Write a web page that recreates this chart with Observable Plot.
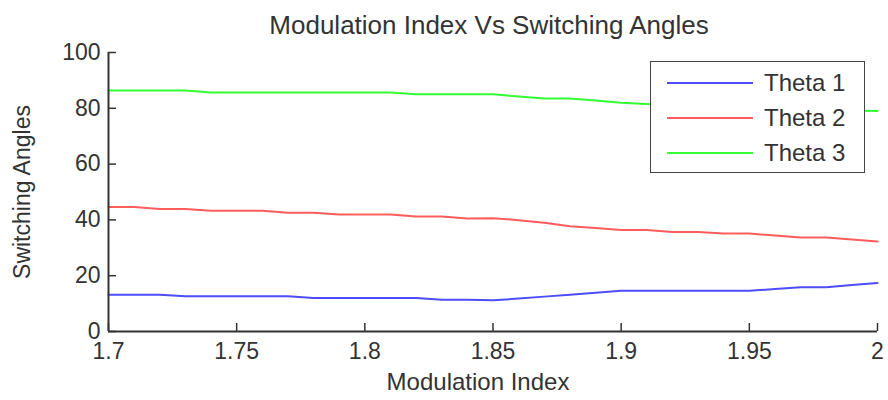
<!DOCTYPE html>
<html>
<head>
<meta charset="utf-8">
<script src="https://cdn.jsdelivr.net/npm/d3@7"></script>
<script src="https://cdn.jsdelivr.net/npm/@observablehq/plot@0.6"></script>
<style>
  html, body { margin: 0; padding: 0; background: #fff; }
  #wrap { position: relative; width: 888px; height: 400px; font-family: "Liberation Sans", Arial, sans-serif; }
  #legend { position: absolute; left: 650px; top: 61px; width: 215px; height: 112px; border: 1.5px solid #444; background: #fff; box-sizing: border-box; }
  .item { position: absolute; left: 16px; height: 34px; display: flex; align-items: center; }
  .item .sw { width: 86px; height: 0; border-top: 2px solid; margin-right: 11px; }
  .item .lb { font-size: 24px; color: #333; }
</style>
</head>
<body>
<div id="wrap"></div>
<script>
const title = "Modulation Index Vs Switching Angles";
const xLabel = "Modulation Index";
const yLabel = "Switching Angles";
const seriesNames = ["Theta 1", "Theta 2", "Theta 3"];
const seriesColors = ["#4d4dff", "#ff5c5c", "#33ff33"];
const xTicks = [1.7, 1.75, 1.8, 1.85, 1.9, 1.95, 2];
const yTicks = [0, 20, 40, 60, 80, 100];

const modIndex = [1.70,1.71,1.72,1.73,1.74,1.75,1.76,1.77,1.78,1.79,1.80,1.81,1.82,1.83,1.84,1.85,1.86,1.87,1.88,1.89,1.90,1.91,1.92,1.93,1.94,1.95,1.96,1.97,1.98,1.99,2.00];
const theta1 = [13.2,13.2,13.2,12.6,12.6,12.6,12.6,12.6,12.0,12.0,12.0,12.0,12.0,11.4,11.4,11.2,11.8,12.5,13.2,13.9,14.6,14.6,14.6,14.6,14.6,14.6,15.2,15.9,15.9,16.7,17.4];
const theta2 = [44.6,44.6,43.9,43.9,43.3,43.3,43.3,42.6,42.6,41.9,41.9,41.9,41.2,41.2,40.5,40.6,39.9,39.0,37.7,37.1,36.4,36.4,35.7,35.7,35.1,35.1,34.4,33.7,33.7,33.0,32.3];
const theta3 = [86.4,86.4,86.4,86.4,85.7,85.7,85.7,85.7,85.7,85.7,85.7,85.7,85.0,85.0,85.0,85.0,84.2,83.5,83.5,82.8,82.0,81.5,81.2,80.9,80.6,80.4,80.1,79.8,79.5,79.2,79.0];

const seriesValues = [theta1, theta2, theta3];
const rows = [];
seriesNames.forEach((name, s) => {
  modIndex.forEach((x, i) => rows.push({series: name, x, y: seriesValues[s][i]}));
});

const fmt = d => String(+d.toFixed(2));
const font = "Liberation Sans, Arial, sans-serif";

const chart = Plot.plot({
  width: 888,
  height: 400,
  marginLeft: 108,
  marginRight: 11,
  marginTop: 52,
  marginBottom: 69,
  style: {fontFamily: font, background: "#fff", color: "#333", overflow: "visible"},
  x: {domain: [1.7, 2], axis: null},
  y: {domain: [0, 100], axis: null},
  color: {domain: seriesNames, range: seriesColors},
  marks: [
    Plot.line(rows, {x: "x", y: "y", z: "series", stroke: "series", strokeWidth: 2}),
    Plot.ruleY([0], {stroke: "#333", strokeWidth: 2}),
    Plot.ruleX([1.7], {stroke: "#333", strokeWidth: 2}),
    Plot.axisX(xTicks, {anchor: "bottom", tickSize: -8, tickPadding: 19, tickFormat: fmt, fontSize: 23, stroke: "#333", strokeWidth: 1.5, fill: "#333", label: null}),
    Plot.axisY(yTicks, {anchor: "left", tickSize: -8, tickPadding: 16, tickFormat: fmt, fontSize: 23, stroke: "#333", strokeWidth: 1.5, fill: "#333", label: null}),
    Plot.text([title], {frameAnchor: "top", lineAnchor: "middle", dx: -4, dy: -27, fontSize: 26, fill: "#333"}),
    Plot.text([xLabel], {frameAnchor: "bottom", lineAnchor: "middle", dx: -15, dy: 51, fontSize: 24, fill: "#333"}),
    Plot.text([yLabel], {frameAnchor: "left", textAnchor: "middle", lineAnchor: "middle", dx: -86, rotate: -90, fontSize: 23, fill: "#333"})
  ]
});

const wrap = document.getElementById("wrap");
wrap.appendChild(chart);

const legend = document.createElement("div");
legend.id = "legend";
seriesNames.forEach((name, i) => {
  const item = document.createElement("div");
  item.className = "item";
  item.style.top = (4 + i * 35) + "px";
  const sw = document.createElement("div");
  sw.className = "sw";
  sw.style.borderTopColor = seriesColors[i];
  const lb = document.createElement("span");
  lb.className = "lb";
  lb.textContent = name;
  item.appendChild(sw);
  item.appendChild(lb);
  legend.appendChild(item);
});
wrap.appendChild(legend);
</script>
</body>
</html>
